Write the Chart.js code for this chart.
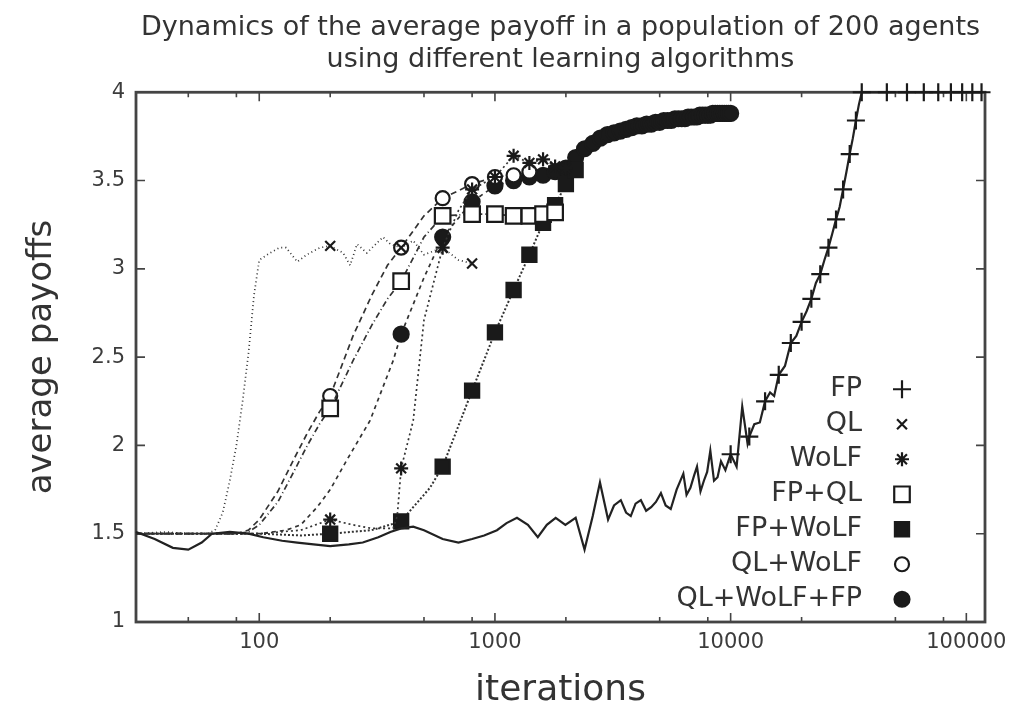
<!DOCTYPE html>
<html>
<head>
<meta charset="utf-8">
<title>Dynamics of the average payoff</title>
<script src="https://cdn.jsdelivr.net/npm/chart.js@4.4.1/dist/chart.umd.min.js"></script>
<style>
    html, body { margin: 0; padding: 0; background: #fff; }
    canvas { display: block; }
</style>
</head>
<body>
<canvas id="payoffChart" width="1024" height="721"></canvas>
<script>
// Iterations (x) and average payoff (y), one pair per algorithm mix
const fpIter = [
    30, 36, 43, 50, 57, 63, 75, 90, 104, 125,
    145, 170, 200, 240, 275, 320, 360, 400, 450, 500,
    600, 700, 800, 900, 1020, 1120, 1240, 1380, 1520, 1660,
    1810, 1990, 2200, 2400, 2600, 2790, 3020, 3200, 3420, 3600,
    3770, 3950, 4160, 4380, 4600, 4820, 5060, 5300, 5570, 5900,
    6300, 6500, 6750, 7000, 7200, 7450, 7700, 7950, 8200, 8500,
    8800, 9100, 9500, 10000, 10600, 11200, 11800, 12000, 12600, 13300,
    14000, 14700, 15300, 16000, 17000, 18000, 19000, 20000, 21000, 22000,
    23000, 24000, 25000, 26000, 27000, 28000, 29000, 30000, 31000, 32000,
    33000, 34000, 35000, 36000, 46000, 56000, 66000, 76000, 86000, 96000,
    106000, 116000
];
const fpPayoff = [
    1.51, 1.47, 1.42, 1.41, 1.45, 1.50, 1.51, 1.50, 1.48, 1.46,
    1.45, 1.44, 1.43, 1.44, 1.45, 1.48, 1.51, 1.53, 1.54, 1.52,
    1.47, 1.45, 1.47, 1.49, 1.52, 1.56, 1.59, 1.55, 1.48, 1.55,
    1.59, 1.55, 1.59, 1.41, 1.60, 1.79, 1.58, 1.66, 1.69, 1.62,
    1.60, 1.67, 1.69, 1.63, 1.65, 1.68, 1.73, 1.66, 1.64, 1.75,
    1.84, 1.72, 1.76, 1.83, 1.88, 1.74, 1.80, 1.85, 1.97, 1.80,
    1.82, 1.91, 1.86, 1.95, 1.88, 2.22, 2.01, 2.05, 2.12, 2.13,
    2.25, 2.30, 2.28, 2.40, 2.45, 2.58, 2.62, 2.70, 2.76, 2.83,
    2.92, 2.97, 3.05, 3.12, 3.20, 3.28, 3.35, 3.45, 3.55, 3.65,
    3.74, 3.84, 3.93, 4.00, 4.00, 4.00, 4.00, 4.00, 4.00, 4.00,
    4.00, 4.00
];

const qlIter = [
    30, 40, 50, 60, 65, 70, 75, 80, 85, 90,
    95, 100, 111, 122, 130, 145, 159, 181, 200, 227,
    243, 260, 286, 335, 360, 400, 450, 500, 600, 700,
    800
];
const qlPayoff = [
    1.50, 1.51, 1.50, 1.50, 1.52, 1.62, 1.80, 2.00, 2.25, 2.52,
    2.85, 3.05, 3.09, 3.12, 3.12, 3.04, 3.08, 3.12, 3.13, 3.09,
    3.02, 3.14, 3.09, 3.18, 3.14, 3.12, 3.16, 3.08, 3.12, 3.05,
    3.03
];

const wolfIter = [
    30, 60, 100, 150, 200, 250, 300, 370, 385, 400,
    450, 500, 600, 700, 800, 1000, 1200, 1400, 1600, 1800,
    2000
];
const wolfPayoff = [
    1.50, 1.50, 1.50, 1.52, 1.58, 1.55, 1.53, 1.53, 1.60, 1.87,
    2.14, 2.71, 3.12, 3.33, 3.45, 3.52, 3.64, 3.60, 3.62, 3.58,
    3.57
];

const fpQlIter = [
    30, 60, 80, 90, 100, 120, 140, 160, 180, 200,
    250, 300, 350, 400, 500, 600, 800, 1000, 1200, 1400,
    1600, 1800
];
const fpQlPayoff = [
    1.50, 1.50, 1.50, 1.51, 1.55, 1.68, 1.85, 2.00, 2.12, 2.21,
    2.48, 2.68, 2.83, 2.93, 3.18, 3.30, 3.31, 3.31, 3.30, 3.30,
    3.31, 3.32
];

const fpWolfIter = [
    30, 60, 100, 150, 200, 300, 400, 450, 530, 600,
    800, 1000, 1200, 1400, 1600, 1800, 2000, 2200
];
const fpWolfPayoff = [
    1.50, 1.50, 1.50, 1.49, 1.50, 1.52, 1.57, 1.65, 1.76, 1.88,
    2.31, 2.64, 2.88, 3.08, 3.26, 3.36, 3.48, 3.56
];

const qlWolfIter = [
    30, 60, 80, 90, 100, 120, 140, 160, 180, 200,
    250, 300, 350, 400, 500, 600, 800, 1000, 1200, 1400
];
const qlWolfPayoff = [
    1.50, 1.50, 1.50, 1.52, 1.58, 1.74, 1.92, 2.07, 2.19, 2.28,
    2.62, 2.85, 3.02, 3.12, 3.30, 3.40, 3.48, 3.52, 3.53, 3.55
];

const allIter = [
    30, 60, 100, 130, 150, 176, 200, 236, 295, 370,
    400, 500, 600, 800, 1000, 1200, 1400, 1600, 1800, 2000,
    2200, 2400, 2600, 2800, 3000, 3200, 3400, 3600, 3800, 4000,
    4200, 4400, 4600, 4800, 5000, 5200, 5400, 5600, 5800, 6000,
    6200, 6400, 6600, 6800, 7000, 7200, 7400, 7600, 7800, 8000,
    8200, 8400, 8600, 8800, 9000, 9200, 9400, 9600, 9800, 10000
];
const allPayoff = [
    1.50, 1.50, 1.50, 1.52, 1.55, 1.65, 1.75, 1.92, 2.14, 2.48,
    2.63, 2.95, 3.18, 3.38, 3.47, 3.50, 3.52, 3.53, 3.55, 3.57,
    3.63, 3.68, 3.71, 3.74, 3.76, 3.77, 3.78, 3.79, 3.80, 3.81,
    3.81, 3.82, 3.82, 3.83, 3.83, 3.84, 3.84, 3.84, 3.85, 3.85,
    3.85, 3.85, 3.86, 3.86, 3.86, 3.86, 3.87, 3.87, 3.87, 3.87,
    3.87, 3.88, 3.88, 3.88, 3.88, 3.88, 3.88, 3.88, 3.88, 3.88
];

// Axis ticks (gnuplot style: minor ticks at 2, 5, 8 of each decade)
const xTickValues = [50, 80, 100, 200, 500, 800, 1000, 2000, 5000, 8000, 10000, 20000, 50000, 80000, 100000];
const yTickValues = [1, 1.5, 2, 2.5, 3, 3.5, 4];

const FONT = '"DejaVu Sans", "Liberation Sans", sans-serif';
const INK = '#1a1a1a';

const toPoints = (xs, ys) => xs.map((x, i) => ({ x: x, y: ys[i] }));
const isDecade = v => /^10+$/.test(String(v));

// show a marker only on every `step` iterations starting at `from`
function markerEvery(step, from, radius) {
    return function (ctx) {
        const x = ctx.raw ? ctx.raw.x : 0;
        return (x >= from && x % step === 0) ? radius : 0;
    };
}

function series(label, xs, ys, opts) {
    return Object.assign({
        label: label,
        data: toPoints(xs, ys),
        borderColor: '#333',
        borderWidth: 1.7,
        pointBorderColor: INK,
        pointBackgroundColor: INK,
        pointBorderWidth: 2.2,
        tension: 0,
        clip: false
    }, opts);
}

const datasets = [
    series('FP', fpIter, fpPayoff, {
        borderColor: '#222', borderWidth: 2.2,
        pointStyle: 'cross', pointRadius: markerEvery(2000, 10000, 9), markerSize: 9
    }),
    series('QL', qlIter, qlPayoff, {
        borderDash: [1, 3],
        pointStyle: 'crossRot', pointRadius: markerEvery(200, 200, 7), markerSize: 7
    }),
    series('WoLF', wolfIter, wolfPayoff, {
        borderDash: [2, 3],
        pointStyle: 'star', pointRadius: markerEvery(200, 200, 7), markerSize: 7
    }),
    series('FP+QL', fpQlIter, fpQlPayoff, {
        borderDash: [6, 3, 1, 3],
        pointStyle: 'rect', pointBackgroundColor: '#fff', pointRadius: markerEvery(200, 200, 11), markerSize: 11
    }),
    series('FP+WoLF', fpWolfIter, fpWolfPayoff, {
        borderDash: [2, 2], borderWidth: 2,
        pointStyle: 'rect', pointRadius: markerEvery(200, 200, 10), markerSize: 10
    }),
    series('QL+WoLF', qlWolfIter, qlWolfPayoff, {
        borderDash: [6, 4],
        pointStyle: 'circle', pointBackgroundColor: '#fff', pointRadius: markerEvery(200, 200, 7), markerSize: 7
    }),
    series('QL+WoLF+FP', allIter, allPayoff, {
        borderDash: [4, 4],
        pointStyle: 'circle', pointRadius: markerEvery(200, 400, 7.5), markerSize: 7.5
    })
];

// Frame with inward, mirrored ticks
const framePlugin = {
    id: 'gnuplotFrame',
    beforeDatasetsDraw(chart) {
        const { ctx, chartArea: a, scales } = chart;
        ctx.save();
        ctx.strokeStyle = '#444';
        ctx.lineWidth = 2.8;
        ctx.strokeRect(a.left, a.top, a.right - a.left, a.bottom - a.top);
        ctx.lineWidth = 1.6;
        ctx.beginPath();
        scales.x.ticks.forEach(t => {
            const px = scales.x.getPixelForValue(t.value);
            const len = isDecade(t.value) ? 9 : 5;
            ctx.moveTo(px, a.bottom); ctx.lineTo(px, a.bottom - len);
            ctx.moveTo(px, a.top); ctx.lineTo(px, a.top + len);
        });
        scales.y.ticks.forEach(t => {
            const py = scales.y.getPixelForValue(t.value);
            ctx.moveTo(a.left, py); ctx.lineTo(a.left + 9, py);
            ctx.moveTo(a.right, py); ctx.lineTo(a.right - 9, py);
        });
        ctx.stroke();
        ctx.restore();
    }
};

// Key inside the plot, bottom right: label then marker
const keyPlugin = {
    id: 'insideKey',
    afterDatasetsDraw(chart) {
        const { ctx, chartArea: a } = chart;
        ctx.save();
        ctx.font = '27px ' + FONT;
        ctx.textAlign = 'right';
        ctx.textBaseline = 'middle';
        chart.data.datasets.forEach((ds, i) => {
            const y = a.top + 297 + i * 35;
            ctx.fillStyle = '#333';
            ctx.fillText(ds.label, a.right - 123, y);
            ctx.strokeStyle = ds.pointBorderColor;
            ctx.fillStyle = ds.pointBackgroundColor;
            ctx.lineWidth = ds.pointBorderWidth;
            Chart.helpers.drawPoint(ctx, {
                pointStyle: ds.pointStyle,
                radius: ds.markerSize,
                rotation: 0,
                borderWidth: ds.pointBorderWidth
            }, a.right - 83, y);
        });
        ctx.restore();
    }
};

const ctx = document.getElementById('payoffChart').getContext('2d');
new Chart(ctx, {
    type: 'line',
    data: { datasets: datasets },
    plugins: [framePlugin, keyPlugin],
    options: {
        responsive: false,
        animation: false,
        devicePixelRatio: 1,
        events: [],
        layout: { padding: { top: 0, right: 39, bottom: 0, left: 0 } },
        plugins: {
            legend: { display: false },
            tooltip: { enabled: false },
            title: {
                display: true,
                fullSize: false,
                text: ['Dynamics of the average payoff in a population of 200 agents',
                       'using different learning algorithms'],
                color: '#333',
                font: { family: FONT, size: 27, weight: 'normal', lineHeight: 1.19 },
                padding: { top: 12, bottom: 16 }
            }
        },
        scales: {
            x: {
                type: 'logarithmic',
                min: 30,
                max: 120000,
                afterBuildTicks: scale => { scale.ticks = xTickValues.map(v => ({ value: v })); },
                afterFit: scale => { scale.height = 99; },
                grid: { display: false, drawTicks: false },
                border: { display: false },
                ticks: {
                    autoSkip: false,
                    maxRotation: 0,
                    padding: 8,
                    color: '#3c3c3c',
                    font: { family: FONT, size: 21 },
                    callback: v => isDecade(v) ? String(v) : ''
                },
                title: {
                    display: true,
                    text: 'iterations',
                    color: '#333',
                    font: { family: FONT, size: 36 },
                    padding: { top: 0, bottom: 9 }
                }
            },
            y: {
                min: 1,
                max: 4,
                afterBuildTicks: scale => { scale.ticks = yTickValues.map(v => ({ value: v })); },
                afterFit: scale => { scale.width = 136; },
                grid: { display: false, drawTicks: false },
                border: { display: false },
                ticks: {
                    padding: 11,
                    color: '#3c3c3c',
                    font: { family: FONT, size: 21 },
                    callback: v => String(v)
                },
                title: {
                    display: true,
                    text: 'average payoffs',
                    color: '#333',
                    font: { family: FONT, size: 34 },
                    padding: { top: 22, bottom: 0 }
                }
            }
        }
    }
});
</script>
</body>
</html>
